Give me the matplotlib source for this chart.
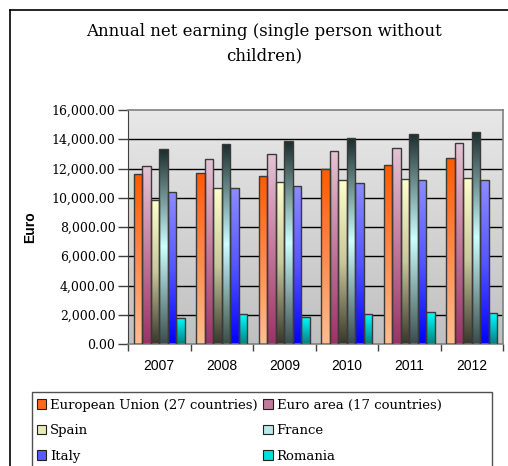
import numpy as np
import matplotlib
matplotlib.use("Agg")
import matplotlib.pyplot as plt
from matplotlib.colors import LinearSegmentedColormap
from matplotlib.patches import Rectangle
from matplotlib.lines import Line2D

years = ["2007", "2008", "2009", "2010", "2011", "2012"]
series_names = ["European Union (27 countries)", "Euro area (17 countries)",
                "Spain", "France", "Italy", "Romania"]
eu27 = [11610, 11700, 11520, 11980, 12250, 12690]
euro_area = [12160, 12620, 12960, 13170, 13420, 13720]
spain = [9880, 10650, 11060, 11200, 11290, 11360]
france = [13300, 13650, 13880, 14060, 14360, 14520]
italy = [10360, 10650, 10810, 11040, 11200, 11200]
romania = [1780, 2030, 1880, 2030, 2170, 2100]
values = [eu27, euro_area, spain, france, italy, romania]

# gradient stops, listed from the bottom of a bar to its top
gradients = [
    ["#FFBE90", "#FF8A4A", "#FF5A00"],
    ["#993366", "#C27A9C", "#E4C4D4"],
    ["#38372A", "#C9C79C", "#FFFFCC"],
    ["#3A4C4C", "#CCFFFF", "#1C2C2C"],
    ["#0000FF", "#5555FF", "#8C8CFF"],
    ["#008080", "#00C0C0", "#00FFFF"],
]
legend_colors = ["#FF6A1A", "#C07A9C", "#E8E8B8", "#B8E8E8", "#5A5AFF", "#00E0E0"]

W, H = 508, 466
fig = plt.figure(figsize=(W / 100, H / 100), dpi=100)
serif = "DejaVu Serif"

def fx(px):
    return px / W

def fy(py):
    return 1 - py / H

# outer chart frame (left and top edges visible)
fig.add_artist(Line2D([fx(10), fx(10)], [fy(10), 0], color="black", lw=1.2))
fig.add_artist(Line2D([fx(10), 1], [fy(10), fy(10)], color="black", lw=1.2))

fig.text(fx(264), fy(32), "Annual net earning (single person without",
         ha="center", va="center", fontsize=12, family=serif)
fig.text(fx(264), fy(56), "children)", ha="center", va="center",
         fontsize=12, family=serif)

left, right, top, bottom = 128, 503, 110, 344
ax = fig.add_axes([fx(left), fy(bottom), (right - left) / W, (bottom - top) / H])

# plot area background gradient
bg = LinearSegmentedColormap.from_list("bg", ["#C0C0C0", "#E8E8E8"])
ax.imshow(np.linspace(0, 1, 256).reshape(-1, 1), cmap=bg, origin="lower",
          extent=[0, 1, 0, 1], transform=ax.transAxes, aspect="auto", zorder=0)

for yv in range(2000, 16000, 2000):
    ax.axhline(yv, color="black", lw=1, zorder=1)

nser = len(series_names)
bw = 0.135
x = np.arange(len(years)) + 0.5
for i, (vals, stops) in enumerate(zip(values, gradients)):
    cmap = LinearSegmentedColormap.from_list(f"g{i}", stops)
    offs = x + (i - (nser - 1) / 2) * bw
    bars = ax.bar(offs, vals, width=bw, facecolor="none",
                  edgecolor="#3A3A3A", linewidth=1.0, zorder=3)
    for rect in bars:
        x0, y0 = rect.get_x(), rect.get_y()
        im = ax.imshow(np.linspace(0, 1, 256).reshape(-1, 1), cmap=cmap,
                       origin="lower", aspect="auto", zorder=2,
                       extent=[x0, x0 + rect.get_width(), y0, y0 + rect.get_height()])
        im.set_clip_path(rect)
ax.set_xlim(0, len(years))
ax.set_ylim(0, 16000)

for s in ["top", "right", "bottom"]:
    ax.spines[s].set_color("#808080")
    ax.spines[s].set_linewidth(1.2)
ax.spines["left"].set_color("#404040")

ax.set_yticks(range(0, 16001, 2000))
ax.set_yticklabels([f"{v:,.2f}" for v in range(0, 16001, 2000)],
                   family=serif, fontsize=9)
ax.tick_params(axis="y", direction="out", length=7, width=1, color="#404040", pad=2)
ax.set_xticks(np.arange(0, len(years) + 1), minor=False)
ax.set_xticklabels([])
ax.set_xticks(x, minor=True)
ax.set_xticklabels(years, minor=True, family="Liberation Sans", fontsize=10)
ax.tick_params(axis="x", which="major", direction="out", length=5, width=1, color="#404040")
ax.tick_params(axis="x", which="minor", length=0, pad=11)
ax.set_ylabel("Euro", family="Liberation Sans", fontweight="bold", fontsize=10)
ax.yaxis.set_label_coords((37 - left) / (right - left), 0.5)

# legend box
fig.add_artist(Rectangle((fx(32), -0.05), fx(492) - fx(32), fy(392) + 0.05,
                         transform=fig.transFigure, facecolor="white",
                         edgecolor="#505050", lw=1.0))
handles = [Rectangle((0, 0), 1, 1, facecolor=c, edgecolor="#202020", lw=0.8)
           for c in legend_colors]
order = [0, 2, 4, 1, 3, 5]
fig.legend([handles[k] for k in order], [series_names[k] for k in order],
           ncol=2, loc="upper left", bbox_to_anchor=(fx(34), fy(396)),
           frameon=False, prop={"family": serif, "size": 9.5},
           handlelength=0.7, handleheight=0.7, handletextpad=0.3,
           columnspacing=0.45, labelspacing=0.95, borderaxespad=0, borderpad=0.2)

fig.savefig("out.png", dpi=100)
